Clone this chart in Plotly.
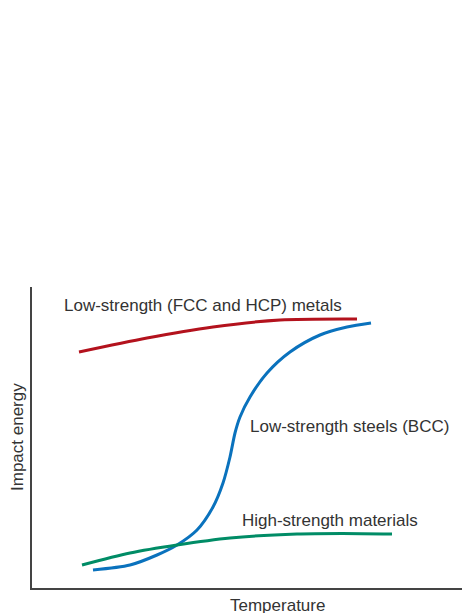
import plotly.graph_objects as go

# Schematic curves (temperature vs impact energy, arbitrary units)
fcc_t = [47, 115, 181, 248, 325]
fcc_e = [236, 250, 261, 268, 269]

bcc_t = [61, 98, 125, 145, 165, 181, 191, 198, 203, 208, 218, 235, 258, 288, 315, 339]
bcc_e = [18, 23, 33, 43, 58, 81, 105, 131, 155, 171, 191, 215, 236, 253, 261, 265]

hs_t = [50, 98, 145, 198, 265, 310, 360]
hs_e = [23, 35, 43, 50, 54, 54.5, 54]

labels = ["Low-strength (FCC and HCP) metals", "Low-strength steels (BCC)", "High-strength materials"]
label_t = [30, 216, 208]
label_e = [283, 162, 68]

colors = ["#b3121d", "#0a72bd", "#008c66"]

FS = 17

fig = go.Figure()
for t, e, c in [(fcc_t, fcc_e, colors[0]), (bcc_t, bcc_e, colors[1]), (hs_t, hs_e, colors[2])]:
    fig.add_trace(go.Scatter(x=t, y=e, mode="lines",
                             line=dict(color=c, width=3, shape="spline", smoothing=0.8),
                             hoverinfo="skip", showlegend=False))

for txt, x, y in zip(labels, label_t, label_e):
    fig.add_annotation(x=x, y=y, text=txt, showarrow=False, xanchor="left", yanchor="middle",
                       font=dict(size=FS, color="#333333"))

# axis titles as annotations (paper coords relative to plot area 438x301)
fig.add_annotation(text="Temperature", xref="paper", yref="paper",
                   x=(277 - 32) / 438, y=-(605 - 588) / 301,
                   xanchor="center", yanchor="middle", showarrow=False,
                   font=dict(size=FS, color="#333333"))
fig.add_annotation(text="Impact energy", xref="paper", yref="paper",
                   x=(17 - 32) / 438, y=(588 - 437) / 301, textangle=-90,
                   xanchor="center", yanchor="middle", showarrow=False,
                   font=dict(size=FS, color="#333333"))

fig.update_layout(
    width=470, height=613,
    margin=dict(l=24, r=8, t=279, b=33, autoexpand=False),
    paper_bgcolor="white", plot_bgcolor="white",
    font=dict(family="Liberation Sans, Arial, sans-serif", color="#333333"),
    xaxis=dict(range=[0, 438], showgrid=False, zeroline=False, showticklabels=False,
               ticks="", showline=True, linecolor="#444444", linewidth=1.5),
    yaxis=dict(range=[0, 301], showgrid=False, zeroline=False, showticklabels=False,
               ticks="", showline=True, linecolor="#444444", linewidth=1.5),
)

fig.write_html("out.html")
